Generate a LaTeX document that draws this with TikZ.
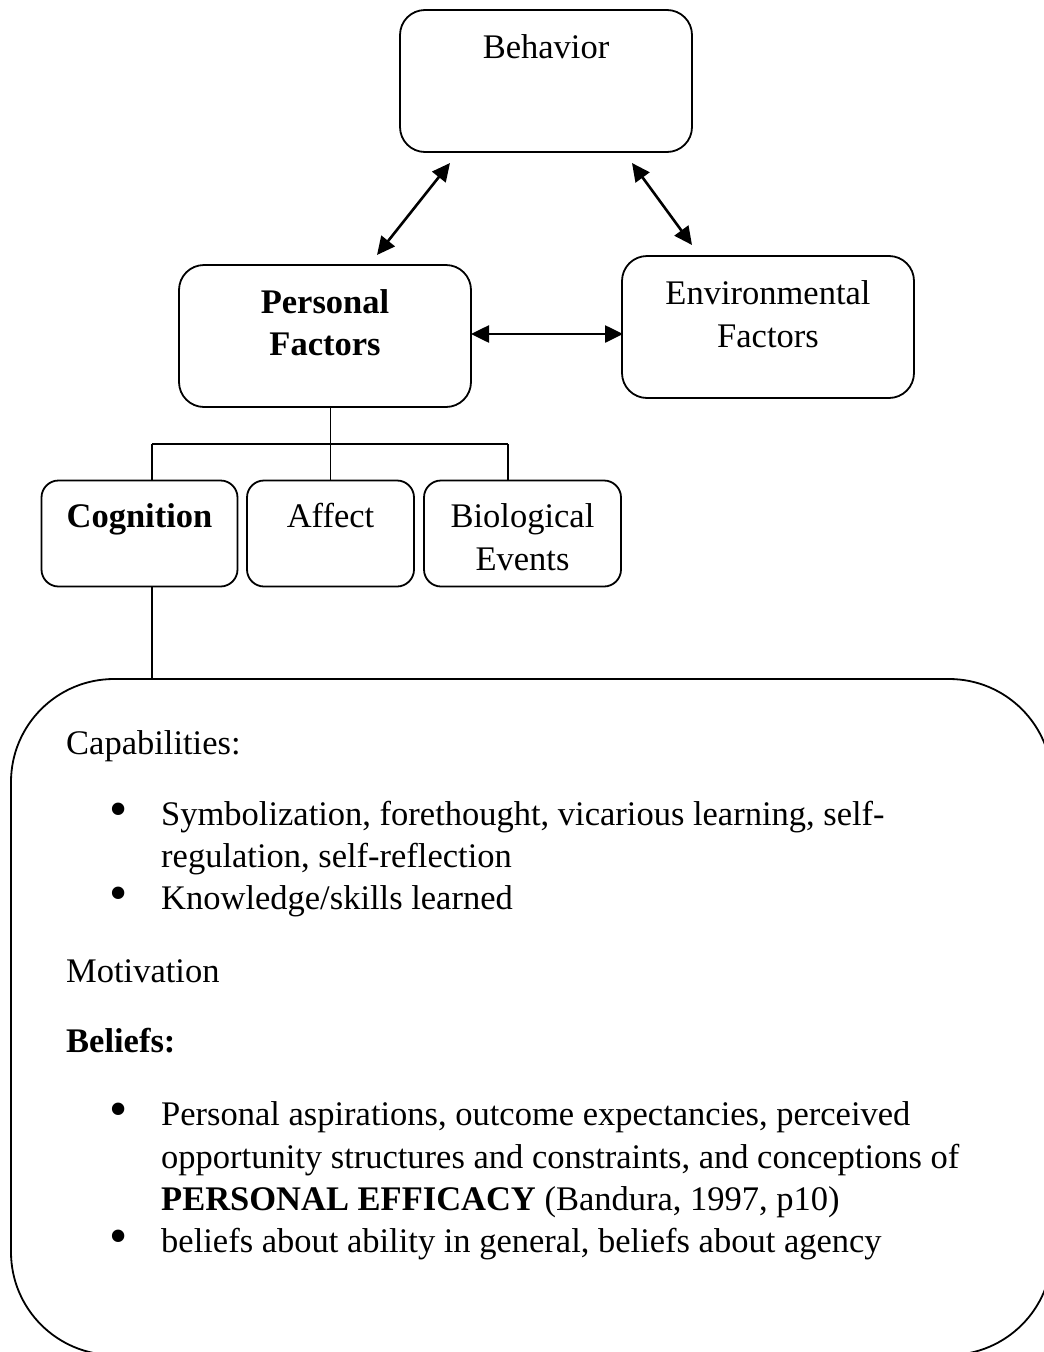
\documentclass[tikz,border=0pt]{standalone}
\usepackage{fontspec}
\setmainfont{Liberation Serif}
\usetikzlibrary{arrows.meta}
\begin{document}
\begin{tikzpicture}[x=1pt,y=-1pt,
  box/.style={draw, line width=1.8pt, rounded corners=25pt, inner sep=0pt},
  sbox/.style={draw, line width=1.8pt, rounded corners=17pt, inner sep=0pt, minimum height=106pt},
  txt/.style={anchor=base, inner sep=0pt, font=\fontsize{34.5}{40}\selectfont},
  ltxt/.style={anchor=base west, inner sep=0pt, font=\fontsize{34.5}{40}\selectfont},
  bul/.style={anchor=center, inner sep=0pt, font=\fontsize{52}{52}\selectfont},
  link/.style={line width=1.8pt},
  dbl/.style={line width=2.6pt, {Triangle[length=18pt,width=17pt]}-{Triangle[length=18pt,width=17pt]}}
]
\clip (0,0) rectangle (1044,1352);
% main boxes
\node[box, minimum width=292pt, minimum height=142pt] (beh) at (546,81) {};
\node[box, minimum width=292pt, minimum height=142pt] (pf) at (325,336) {};
\node[box, minimum width=292pt, minimum height=142pt] (ef) at (768,327) {};
\node[txt] (behT) at (546,58) {Behavior};
\node[txt] (pfT1) at (325,313) {\bfseries Personal};
\node[txt] (pfT2) at (325,355) {\bfseries Factors};
\node[txt] (efT1) at (768,304) {Environmental};
\node[txt] (efT2) at (768,347) {Factors};
% arrows
\coordinate (a1s) at (450,163); \coordinate (a1e) at (377,255);
\coordinate (a2s) at (632,163); \coordinate (a2e) at (692,245);
\coordinate (a3s) at (471,334); \coordinate (a3e) at (623,334);
\draw[dbl] (a1s) -- (a1e);
\draw[dbl] (a2s) -- (a2e);
\draw[dbl] (a3s) -- (a3e);
% sub boxes
\node[sbox, minimum width=196pt] (cog) at (139.5,533.5) {};
\node[sbox, minimum width=167pt] (aff) at (330.5,533.5) {};
\node[sbox, minimum width=197pt] (bio) at (522.5,533.5) {};
\node[txt] (cogT) at (139.5,527) {\bfseries Cognition};
\node[txt] (affT) at (330.5,527) {Affect};
\node[txt] (bioT1) at (522.5,527) {Biological};
\node[txt] (bioT2) at (522.5,570) {Events};
% tree
\coordinate (tl) at (152,444);
\coordinate (tr) at (508,444);
\draw[link] (aff.north |- pf.south) -- (aff.north);
\draw[link] (tl) -- (tr);
\draw[link] (tl) -- (tl |- cog.north);
\draw[link] (tr) -- (tr |- bio.north);
% big box
\node[draw, line width=1.8pt, rounded corners=103pt, minimum width=1041pt, minimum height=676pt, inner sep=0pt] (big) at (531.5,1017) {};
\draw[link] (tl |- cog.south) -- (tl |- big.north);
% big box text
\node[ltxt] (cap) at (66,754) {Capabilities:};
\node[bul] (b1) at (119,815) {•};
\node[ltxt] (l1) at (161,825) {Symbolization, forethought, vicarious learning, self-};
\node[ltxt] (l2) at (161,867) {regulation, self-reflection};
\node[bul] (b2) at (119,899) {•};
\node[ltxt] (l3) at (161,909) {Knowledge/skills learned};
\node[ltxt] (mot) at (66,982) {Motivation};
\node[ltxt] (bel) at (66,1052) {\bfseries Beliefs:};
\node[bul] (b3) at (119,1115) {•};
\node[ltxt] (l4) at (161,1125) {Personal aspirations, outcome expectancies, perceived};
\node[ltxt] (l5) at (161,1168) {opportunity structures and constraints, and conceptions of};
\node[ltxt] (l6) at (161,1210) {\bfseries PERSONAL EFFICACY\mdseries{} (Bandura, 1997, p10)};
\node[bul] (b4) at (119,1242) {•};
\node[ltxt] (l7) at (161,1252) {beliefs about ability in general, beliefs about agency};
\end{tikzpicture}
\end{document}
